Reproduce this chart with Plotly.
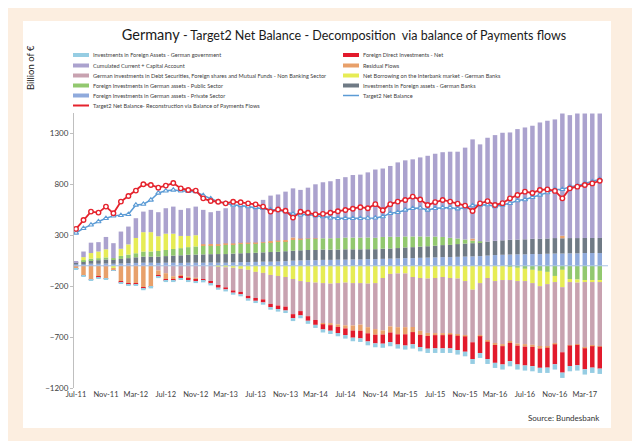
import pandas as pd
import plotly.graph_objects as go

# ---------------- data (billion EUR, monthly Jul-11 .. May-17) ----------------
months = pd.date_range("2011-07-01", periods=71, freq="MS").strftime("%b-%y").tolist()
tick_labels = months[::4]

gov_foreign_assets = [-10, -10, -10, -8, -8, -5, -10, -12, -12, -15, -15, -15, -15,
                      -15, -15, -18, -18, -18, -18, -20, -20, -20, -20, -22, -22, -22, -25, -25,
                      -25, -28, -28, -30, -30, -30, -32, -32, -35, -35, -35, -38, -38, -40,
                      -40, -40, -40, -42, -42, -42, -45, -45, -45, -45, -45, -48, -48, -48,
                      -50, -50, -50, -50, -50, -50, -50, -52, -52, -52, -52, -52, -52, -52, -52]
fdi_net = [-2, -3, -3, -3, -3, -3, -5, -5, -5, -8, -8, -10, -12,
           -12, -12, -14, -14, -15, -16, -18, -20, -22, -24, -26, -28, -30, -32, -35,
           -38, -40, -42, -45, -48, -50, -55, -60, -65, -70, -75, -80, -85, -90,
           -95, -100, -110, -120, -120, -125, -130, -130, -135, -140, -150, -165, -165, -170,
           -175, -180, -180, -185, -185, -190, -190, -195, -195, -200, -200, -200, -205, -210, -215]
current_account = [5, 55, 102, 92, 121, 147, 169, 175, 194, 202, 219, 236, 250,
                   266, 256, 272, 281, 337, 312, 326, 345, 361, 356, 371, 376, 415, 446, 453,
                   475, 482, 478, 499, 530, 550, 560, 580, 593, 614, 618, 639, 670, 672,
                   695, 731, 747, 757, 776, 793, 813, 832, 845, 852, 902, 974, 952, 1019,
                   1038, 1056, 1054, 1085, 1098, 1110, 1142, 1156, 1165, 1200, 1207, 1223, 1222, 1222, 1222]
residual = [-25, -90, -130, -110, -120, -17, -155, -175, -175, -215, -199, -50, -60,
            -30, -20, -20, -20, 15, 15, 10, 15, 10, 10, 10, 5, 5, 10, 10,
            10, 25, 10, 5, 5, -10, -20, -25, -30, -50, -60, -60, -55, -40,
            -60, -70, -70, -50, -40, -30, -20, -20, -15, -10, -10, 20, -10, -10,
            -15, -20, -15, -20, -25, -20, -15, -10, -10, 25, -5, -5, -5, -5, -5]
debt_securities = [-3, -2, -2, 0, -4, 0, 0, -1, -1, -2, 0, -46, -73,
                   -103, -90, -108, -118, -130, -159, -187, -197, -222, -226, -255, -256, -260, -284, -290,
                   -291, -345, -295, -335, -367, -395, -388, -405, -420, -416, -408, -428, -452, -515,
                   -515, -528, -528, -491, -518, -534, -541, -551, -541, -552, -534, -516, -512, -616,
                   -613, -629, -602, -614, -619, -606, -597, -615, -602, -639, -619, -607, -646, -625, -630]
interbank = [0, 30, 55, 65, 80, -25, 70, 100, 150, 190, 190, 145, 160,
             150, 120, 110, 110, 0, 0, -10, -15, -20, -30, -40, -60, -70, -90, -100,
             -110, -130, -150, -160, -165, -170, -175, -170, -165, -170, -170, -175, -170, -120,
             -80, -75, -75, -110, -120, -125, -120, -110, -120, -125, -150, -235, -170, -120,
             -150, -140, -130, -130, -120, -130, -150, -120, -60, -170, -30, -30, -20, -20, -20]
public_sector = [0, 10, 15, 20, 20, 15, 30, 35, 40, 50, 50, 55, 60,
                 65, 70, 75, 80, 85, 85, 88, 90, 90, 92, 92, 95, 95, 98, 100,
                 100, 105, 105, 108, 110, 110, 112, 112, 115, 115, 115, 115, 112, 115,
                 115, 110, 108, 105, 100, 95, 90, 80, 70, 55, 40, 25, 10, 0,
                 0, 0, -10, -20, -30, -40, -50, -60, -100, -40, -130, -135, -140, -140, -140]
banks_foreign_assets = [20, 30, 35, 35, 40, 40, 45, 50, 55, 60, 60, 62, 65,
                        70, 75, 78, 80, 82, 82, 85, 85, 88, 88, 90, 90, 92, 95, 95,
                        98, 98, 100, 100, 100, 102, 100, 100, 102, 100, 100, 98, 98, 100,
                        100, 102, 105, 108, 110, 112, 115, 118, 120, 125, 128, 130, 135, 138,
                        140, 142, 145, 145, 148, 150, 150, 150, 152, 150, 150, 150, 148, 148, 148]
private_sector = [15, 15, 20, 20, 22, 20, 22, 25, 28, 30, 30, 28, 30,
                  30, 28, 30, 30, 30, 32, 30, 30, 32, 35, 35, 38, 40, 40, 42,
                  45, 50, 52, 55, 55, 58, 58, 60, 60, 62, 62, 65, 65, 68,
                  70, 72, 75, 75, 78, 80, 82, 85, 85, 88, 90, 92, 95, 100,
                  105, 108, 110, 112, 112, 115, 115, 118, 120, 120, 122, 122, 125, 125, 125]
target2_balance = [322, 368, 401, 434, 466, 490, 495, 505, 597, 605, 646, 715, 736,
                   744, 736, 730, 728, 690, 660, 630, 613, 597, 592, 581, 572, 565, 550, 550,
                   532, 508, 500, 505, 490, 483, 470, 466, 466, 466, 466, 468, 470, 483,
                   515, 525, 548, 564, 568, 548, 564, 571, 571, 560, 571, 591, 597, 600,
                   581, 597, 613, 640, 650, 672, 695, 718, 750, 750, 777, 785, 809, 826, 849]
target2_reconstruction = [362, 450, 532, 522, 581, 515, 630, 685, 738, 800, 793, 767, 787,
                          812, 760, 744, 738, 662, 636, 629, 613, 629, 623, 613, 603, 581, 532, 552,
                          540, 473, 530, 520, 505, 510, 520, 535, 548, 560, 575, 565, 605, 545,
                          605, 630, 646, 679, 650, 597, 625, 646, 630, 610, 591, 538, 613, 635,
                          597, 615, 662, 695, 728, 715, 744, 750, 735, 662, 760, 777, 793, 809, 835]

# ---------------- styling ----------------
FONT = "Lato, 'Open Sans', sans-serif"
W, H = 640, 441
PL, PR, PT, PB = 66, 600, 105, 380          # plot area in pixels


def px_x(x):
    return (x - PL) / (PR - PL)


def px_y(y):
    return (PB - y) / (PB - PT)


# stacking order: first trace sits next to zero
bar_series = [
    ("Foreign Investments in German assets - Private Sector", private_sector, "#8FAADC"),
    ("Investments in Foreign assets - German Banks", banks_foreign_assets, "#6F7A85"),
    ("Foreign Investments in German assets - Public Sector", public_sector, "#92C86F"),
    ("Net Borrowing on the Interbank market - German Banks", interbank, "#E6EC55"),
    ("German investments in Debt Securities, Foreign shares and Mutual Funds - Non Banking Sector",
     debt_securities, "#C8A2B0"),
    ("Residual Flows", residual, "#E8A06A"),
    ("Cumulated Current + Capital Account", current_account, "#ABA2CE"),
    ("Foreign Direct Investments - Net", fdi_net, "#E21A2C"),
    ("Investments in Foreign Assets - German government", gov_foreign_assets, "#96CDE3"),
]
colors = {name: c for name, _, c in bar_series}
RED = "#E5232D"
BLUE = "#5B9BD5"

fig = go.Figure()
for name, vals, col in bar_series:
    fig.add_trace(go.Bar(x=months, y=vals, name=name, marker_color=col,
                         marker_line_width=0, showlegend=False))

fig.add_trace(go.Scatter(x=months, y=target2_balance, name="Target2 Net Balance",
                         mode="lines+markers", line=dict(color=BLUE, width=1.5),
                         marker=dict(symbol="triangle-up", size=4.5, color="white",
                                     line=dict(color=BLUE, width=1.1)),
                         showlegend=False))
fig.add_trace(go.Scatter(x=months, y=target2_reconstruction,
                         name="Target2 Net Balance- Reconstruction via Balance of Payments Flows",
                         mode="lines+markers", line=dict(color=RED, width=1.8),
                         marker=dict(symbol="circle", size=4.5, color="white",
                                     line=dict(color=RED, width=1.4)),
                         showlegend=False))

shapes = []
annotations = []

# white card behind title, legend and chart
shapes.append(dict(type="rect", xref="paper", yref="paper", layer="below",
                   x0=px_x(15), x1=px_x(603), y0=px_y(420), y1=px_y(13),
                   fillcolor="white", line=dict(width=0)))
# horizontal axis at zero
shapes.append(dict(type="line", xref="paper", yref="y", layer="above",
                   x0=0, x1=1, y0=0, y1=0, line=dict(color="#A8C4E6", width=1)))

# hand-laid legend (two columns, tight rows)
left_items = [
    ("Investments in Foreign Assets - German government", "bar"),
    ("Cumulated Current + Capital Account", "bar"),
    ("German investments in Debt Securities, Foreign shares and Mutual Funds - Non Banking Sector", "bar"),
    ("Foreign Investments in German assets - Public Sector", "bar"),
    ("Foreign Investments in German assets - Private Sector", "bar"),
    ("Target2 Net Balance- Reconstruction via Balance of Payments Flows", "red"),
]
right_items = [
    ("Foreign Direct Investments - Net", "bar"),
    ("Residual Flows", "bar"),
    ("Net Borrowing on the Interbank market - German Banks", "bar"),
    ("Investments in Foreign assets - German Banks", "bar"),
    ("Target2 Net Balance", "blue"),
]
rows_y = [47, 57.5, 67.5, 77.5, 87.5, 97.5]


def legend_column(items, sx0, sx1, tx):
    for (label, kind), ry in zip(items, rows_y):
        if kind == "bar":
            shapes.append(dict(type="rect", xref="paper", yref="paper",
                               x0=px_x(sx0), x1=px_x(sx1), y0=px_y(ry + 2), y1=px_y(ry - 2),
                               fillcolor=colors[label], line=dict(width=0)))
        else:
            col = RED if kind == "red" else BLUE
            shapes.append(dict(type="line", xref="paper", yref="paper",
                               x0=px_x(sx0), x1=px_x(sx1), y0=px_y(ry), y1=px_y(ry),
                               line=dict(color=col, width=2 if kind == "red" else 1.5)))
        annotations.append(dict(xref="paper", yref="paper", x=px_x(tx), y=px_y(ry),
                                xanchor="left", yanchor="middle", showarrow=False,
                                text=label, font=dict(family=FONT, size=5.6, color="#404040")))


legend_column(left_items, 65, 81, 83)
legend_column(right_items, 335, 351, 353)

# y-axis title
annotations.append(dict(xref="paper", yref="paper", x=px_x(22), y=px_y(60),
                        xanchor="center", yanchor="middle", textangle=-90, showarrow=False,
                        text="Billion of €", font=dict(family=FONT, size=9.5, color="#222222")))
# source note
annotations.append(dict(xref="paper", yref="paper", x=px_x(594), y=px_y(410),
                        xanchor="right", yanchor="middle", showarrow=False,
                        text="Source: Bundesbank", font=dict(family=FONT, size=8, color="#333333")))

fig.update_layout(
    width=W, height=H,
    margin=dict(l=PL, r=W - PR, t=PT, b=H - PB, pad=0),
    paper_bgcolor="#FCEEE0",
    plot_bgcolor="white",
    barmode="relative",
    bargap=0.4,
    showlegend=False,
    title=dict(text="<span style='font-size:14.5px'>Germany</span> - Target2 Net Balance - "
                    "Decomposition  via balance of Payments flows",
               x=336 / W, xanchor="center", y=1 - 28 / H, yanchor="middle",
               font=dict(family=FONT, size=12.5, color="#1a1a1a")),
    xaxis=dict(type="category", range=[-0.27, 71.1], tickmode="array",
               tickvals=tick_labels, ticktext=tick_labels, tickangle=0,
               showgrid=False, showline=False, zeroline=False, ticks="",
               tickfont=dict(family=FONT, size=7.5, color="#404040")),
    yaxis=dict(range=[-1200, 1500], tick0=-1200, dtick=500, tickmode="linear",
               showgrid=False, zeroline=False, showline=True, linecolor="#BFBFBF",
               linewidth=1, ticks="outside", ticklen=3, tickcolor="#BFBFBF",
               tickfont=dict(family=FONT, size=8, color="#404040")),
    shapes=shapes,
    annotations=annotations,
)

fig.write_html("out.html")
